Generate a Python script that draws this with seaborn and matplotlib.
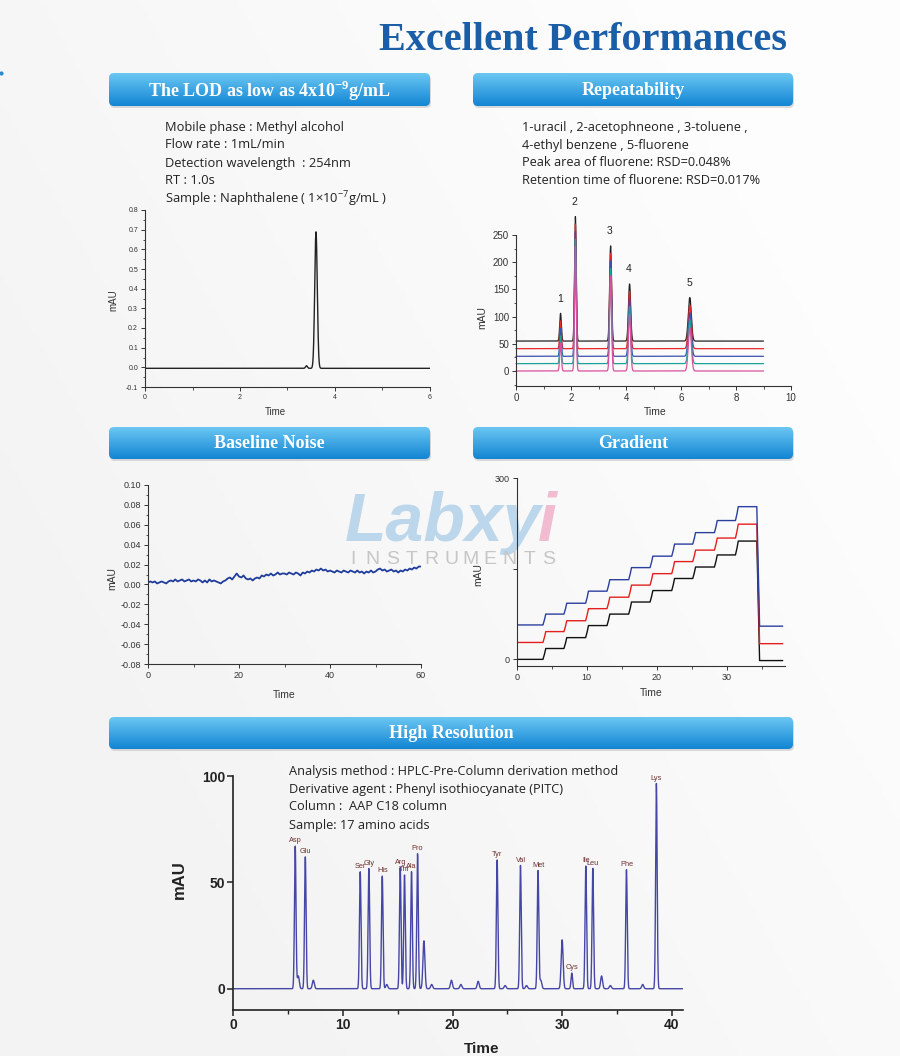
import numpy as np
import pandas as pd
import matplotlib
matplotlib.use("Agg")
import matplotlib.pyplot as plt
import seaborn as sns
from matplotlib.patches import FancyBboxPatch
from matplotlib.ticker import MultipleLocator, FormatStrFormatter

# ---------------- data ----------------
title = "Excellent Performances"
header_texts = ["The LOD as low as 4x10$^{\\mathregular{-9}}$g/mL", "Repeatability", "Baseline Noise",
                "Gradient", "High Resolution"]

lod_info = ["Mobile phase : Methyl alcohol", "Flow rate : 1mL/min",
            "Detection wavelength  : 254nm", "RT : 1.0s",
            "Sample : Naphthalene ( 1×10$^{\\mathregular{-7}}$g/mL )"]
lod_peak_times = [3.40, 3.60]
lod_peak_heights = [0.013, 0.695]
lod_peak_widths = [0.02, 0.027]
lod_baseline = -0.005

rep_info = ["1-uracil , 2-acetophneone , 3-toluene ,", "4-ethyl benzene , 5-fluorene",
            "Peak area of fluorene: RSD=0.048%", "Retention time of fluorene: RSD=0.017%"]
rep_labels = ["1", "2", "3", "4", "5"]
rep_times = [1.62, 2.16, 3.44, 4.13, 6.32]
rep_heights = [51, 229, 175, 105, 80]
rep_widths = [0.030, 0.030, 0.035, 0.040, 0.055]
rep_runs = ["run1", "run2", "run3", "run4", "run5"]
rep_offsets = [55, 41, 27, 13.5, 0]

noise_time = np.arange(0, 60.01, 0.5)
noise_values = [
    0.002, 0.003, 0.002, 0.003, 0.001, 0.002, 0.003, 0.002, 0.001, 0.003,
    0.004, 0.003, 0.005, 0.003, 0.004, 0.005, 0.003, 0.004, 0.005, 0.003,
    0.004, 0.003, 0.005, 0.004, 0.002, 0.004, 0.002, 0.005, 0.003, 0.004,
    0.003, 0.002, 0.001, 0.003, 0.004, 0.006, 0.007, 0.005, 0.008, 0.011,
    0.008, 0.007, 0.009, 0.006, 0.005, 0.006, 0.004, 0.006, 0.007, 0.006,
    0.009, 0.008, 0.010, 0.009, 0.011, 0.009, 0.010, 0.012, 0.010, 0.011,
    0.011, 0.010, 0.012, 0.011, 0.010, 0.012, 0.011, 0.009, 0.012, 0.011,
    0.013, 0.012, 0.014, 0.013, 0.015, 0.014, 0.016, 0.014, 0.015, 0.013,
    0.014, 0.013, 0.012, 0.014, 0.013, 0.012, 0.014, 0.013, 0.012, 0.014,
    0.013, 0.012, 0.014, 0.012, 0.013, 0.011, 0.013, 0.012, 0.014, 0.012,
    0.013, 0.015, 0.016, 0.014, 0.015, 0.013, 0.014, 0.015, 0.013, 0.014,
    0.012, 0.014, 0.013, 0.015, 0.014, 0.016, 0.015, 0.017, 0.016, 0.018,
    0.018]

grad_step_times = [3.8, 6.8, 9.9, 12.95, 16.05, 19.1, 22.2, 25.2, 28.3, 31.3]
grad_drop_time = 34.3
grad_end_time = 38.0
grad_levels = [0, 18, 36, 56, 75, 95, 114, 134, 153, 173, 196]
grad_series = ["black", "red", "blue"]
grad_offsets = [0, 28, 57]

aa_info = ["Analysis method : HPLC-Pre-Column derivation method",
           "Derivative agent : Phenyl isothiocyanate (PITC)",
           "Column :  AAP C18 column", "Sample: 17 amino acids"]
aa_names = ["Asp", "Glu", "Ser", "Gly", "His", "Arg", "Thr", "Ala", "Pro",
            "Tyr", "Val", "Met", "Cys", "Ile", "Leu", "Phe", "Lys"]
aa_times = [5.65, 6.57, 11.58, 12.37, 13.59, 15.23, 15.62, 16.26, 16.81,
            24.07, 26.20, 27.80, 30.88, 32.16, 32.80, 35.87, 38.60]
aa_heights = [67, 62, 55, 56.5, 53, 57, 53.5, 55, 63.5,
              60.5, 58, 55.5, 7.4, 57.7, 56.6, 56, 96.5]
minor_times = [5.93, 7.30, 14.00, 17.39, 18.10, 19.90, 20.76, 22.34, 24.80,
               26.75, 28.05, 30.00, 33.60, 34.40, 37.35]
minor_heights = [6, 4, 2, 22.5, 2, 4, 2, 3.5, 1.5, 1.5, 4, 23, 6, 1.5, 2]

# ---------------- style ----------------
sns.set_style("ticks")
plt.rcParams["font.family"] = ["Liberation Sans", "DejaVu Sans"]
plt.rcParams["axes.unicode_minus"] = False
plt.rcParams["mathtext.fontset"] = "dejavusans"

W, H = 900, 1056
fig = plt.figure(figsize=(9, 10.56), dpi=100)
fig.patch.set_facecolor("#f6f6f6")

bg = fig.add_axes([0, 0, 1, 1], zorder=0)
bg.set_xlim(0, W)
bg.set_ylim(H, 0)
bg.axis("off")
# background gradient
gx = np.linspace(0, 1, 200)
gy = np.linspace(0, 1, 200)
GX, GY = np.meshgrid(gx, gy)
val = 0.955 + 0.04 * np.clip(GX * 0.9 - GY * 0.6 + 0.3, 0, 1)
bgimg = np.dstack([val, val, val])
bg.imshow(bgimg, extent=(0, W, H, 0), aspect="auto", zorder=0)
bg.set_xlim(0, W)
bg.set_ylim(H, 0)

# title
bg.text(583, 41, title, ha="center", va="center", fontsize=29, fontweight="bold",
        family=["Liberation Serif"], color="#1b5ea8", zorder=3)
bg.plot([1], [73], marker="o", ms=2, color="#2a8ad0", zorder=3)

# header bars
bars = [(109, 73, 430, 106), (473, 73, 793, 106), (109, 427, 430, 459),
        (473, 427, 793, 459), (109, 717, 793, 749)]
grad_col = np.linspace(0, 1, 64)[:, None]
top_c = np.array([0.42, 0.78, 0.95])
bot_c = np.array([0.07, 0.52, 0.83])
bar_img = (top_c[None, None, :] * (1 - grad_col[..., None]) + bot_c[None, None, :] * grad_col[..., None])
for (x0, y0, x1, y1), txt in zip(bars, header_texts):
    sh = FancyBboxPatch((x0 + 1, y0 + 2), x1 - x0, y1 - y0,
                        boxstyle="round,pad=0,rounding_size=5",
                        facecolor="#b8b8b8", edgecolor="none", alpha=0.5, zorder=1)
    bg.add_patch(sh)
    p = FancyBboxPatch((x0, y0), x1 - x0, y1 - y0, boxstyle="round,pad=0,rounding_size=5",
                       facecolor="none", edgecolor="none", zorder=2)
    bg.add_patch(p)
    im = bg.imshow(bar_img, extent=(x0, x1, y1, y0), aspect="auto", zorder=2)
    im.set_clip_path(p)
    bg.text((x0 + x1) / 2, (y0 + y1) / 2 + 1, txt, ha="center", va="center",
            fontsize=13, fontweight="bold", family=["Liberation Serif"], color="white", zorder=3)
bg.set_xlim(0, W)
bg.set_ylim(H, 0)

# info texts
info_font = ["Open Sans", "DejaVu Sans"]
for i, line in enumerate(lod_info):
    bg.text(165, 127 + 18 * i, line, ha="left", va="center", fontsize=9.3,
            family=info_font, color="#222222", zorder=3)
for i, line in enumerate(rep_info):
    bg.text(522, 127 + 18 * i, line, ha="left", va="center", fontsize=9.2,
            family=info_font, color="#222222", zorder=3)
for i, line in enumerate(aa_info):
    bg.text(289, 771 + 18 * i, line, ha="left", va="center", fontsize=9.2,
            family=info_font, color="#222222", zorder=3)

# watermark
wm = bg.text(345, 541, "Labxy", ha="left", va="baseline", fontsize=49, fontweight="bold",
             style="italic", family=["Liberation Sans"], color="#bcd6eb", zorder=1.5)
fig.canvas.draw()
ext = wm.get_window_extent(renderer=fig.canvas.get_renderer())
x_end = bg.transData.inverted().transform((ext.x1, ext.y0))[0]
bg.text(x_end - 4, 541, "i", ha="left", va="baseline", fontsize=49, fontweight="bold",
        style="italic", family=["Liberation Sans"], color="#f2bcd0", zorder=1.5)
for k, ch in enumerate("INSTRUMENTS"):
    bg.text(353 + k * 19.6, 560, ch, ha="center", va="center", fontsize=14,
            family=["Liberation Sans"], color="#c6c6c6", zorder=1.5)


def add_ax(x0, y0, x1, y1):
    ax = fig.add_axes([x0 / W, 1 - y1 / H, (x1 - x0) / W, (y1 - y0) / H], zorder=2)
    ax.set_facecolor("none")
    return ax


def peak_sum(t, times, heights, widths):
    y = np.zeros_like(t)
    for c, h, w in zip(times, heights, widths):
        y = y + h * np.exp(-0.5 * ((t - c) / w) ** 2)
    return y


def style_small(ax, size=6.5):
    sns.despine(ax=ax)
    for s in ["left", "bottom"]:
        ax.spines[s].set_linewidth(0.8)
        ax.spines[s].set_color("#333333")
    ax.tick_params(which="major", direction="out", length=3, width=0.7,
                   labelsize=size, colors="#333333", pad=2)
    ax.tick_params(which="minor", direction="out", length=1.8, width=0.6, colors="#333333")


# ---- LOD chart ----
ax1 = add_ax(145, 210, 430, 387)
t1 = np.linspace(0, 6, 1500)
df1 = pd.DataFrame({"Time": t1, "mAU": lod_baseline + peak_sum(t1, lod_peak_times, lod_peak_heights, lod_peak_widths)})
sns.lineplot(data=df1, x="Time", y="mAU", ax=ax1, color="#222222", linewidth=1.0,
             estimator=None, sort=False)
ax1.set_xlim(0, 6)
ax1.set_ylim(-0.1, 0.8)
ax1.xaxis.set_major_locator(MultipleLocator(2))
ax1.xaxis.set_minor_locator(MultipleLocator(1))
ax1.yaxis.set_major_locator(MultipleLocator(0.1))
ax1.yaxis.set_minor_locator(MultipleLocator(0.05))
ax1.yaxis.set_major_formatter(FormatStrFormatter("%.1f"))
style_small(ax1, 5)
ax1.set_xlabel("Time", fontsize=7, color="#333333")
ax1.set_ylabel("mAU", fontsize=7, color="#333333")
ax1.xaxis.set_label_coords(0.456, -0.113)
ax1.yaxis.set_label_coords(-0.095, 0.49)

# ---- Repeatability chart ----
ax2 = add_ax(516, 235, 791, 386)
t2 = np.linspace(0, 9, 2500)
frames = []
for run, off in zip(rep_runs, rep_offsets):
    frames.append(pd.DataFrame({"Time": t2, "mAU": off + peak_sum(t2, rep_times, rep_heights, rep_widths),
                                "run": run}))
df2 = pd.concat(frames, ignore_index=True)
sns.lineplot(data=df2, x="Time", y="mAU", hue="run", ax=ax2,
             palette=["#222222", "#e8262a", "#3a4fb0", "#1aa39a", "#d9509e"],
             linewidth=0.9, estimator=None, sort=False, legend=False)
for line in ax2.get_lines():
    line.set_clip_on(False)
ax2.set_xlim(0, 10)
ax2.set_ylim(-27.6, 250)
ax2.xaxis.set_major_locator(MultipleLocator(2))
ax2.xaxis.set_minor_locator(MultipleLocator(1))
ax2.yaxis.set_major_locator(MultipleLocator(50))
ax2.yaxis.set_minor_locator(MultipleLocator(25))
style_small(ax2, 7)
for lab, c, h in zip(rep_labels, rep_times, rep_heights):
    ax2.text(c - 0.03, h + max(rep_offsets) + 27, lab, ha="center", va="center",
             fontsize=7.5, color="#222222", clip_on=False)
ax2.set_xlabel("Time", fontsize=7.5, color="#333333")
ax2.set_ylabel("mAU", fontsize=7.5, color="#333333")
ax2.xaxis.set_label_coords(0.505, -0.14)
ax2.yaxis.set_label_coords(-0.105, 0.45)

# ---- Baseline noise chart ----
ax3 = add_ax(148, 485, 421, 664)
df3 = pd.DataFrame({"Time": noise_time, "mAU": noise_values})
sns.lineplot(data=df3, x="Time", y="mAU", ax=ax3, color="#1f3c9c", linewidth=1.3,
             estimator=None, sort=False)
ax3.set_xlim(0, 60)
ax3.set_ylim(-0.08, 0.10)
ax3.xaxis.set_major_locator(MultipleLocator(20))
ax3.xaxis.set_minor_locator(MultipleLocator(10))
ax3.yaxis.set_major_locator(MultipleLocator(0.02))
ax3.yaxis.set_minor_locator(MultipleLocator(0.01))
ax3.yaxis.set_major_formatter(FormatStrFormatter("%.2f"))
style_small(ax3, 6.5)
ax3.set_xlabel("Time", fontsize=7.5, color="#333333")
ax3.set_ylabel("mAU", fontsize=7.5, color="#333333")
ax3.xaxis.set_label_coords(0.5, -0.145)
ax3.yaxis.set_label_coords(-0.114, 0.48)

# ---- Gradient chart ----
ax4 = add_ax(516.7, 478.3, 784.8, 666)
frames = []
ramp = 0.35
for name, off in zip(grad_series, grad_offsets):
    xs = [0.0]
    ys = [grad_levels[0] + off]
    for t, lp, ln in zip(grad_step_times, grad_levels[:-1], grad_levels[1:]):
        xs += [t - 0.05, t + ramp * 0.5, t + ramp]
        ys += [lp + off, (lp + ln) / 2 + off, ln + off]
    xs += [grad_drop_time, grad_drop_time + 0.4, grad_end_time]
    ys += [grad_levels[-1] + off, grad_levels[0] + off - 2, grad_levels[0] + off - 2]
    frames.append(pd.DataFrame({"Time": xs, "mAU": ys, "series": name}))
df4 = pd.concat(frames, ignore_index=True)
sns.lineplot(data=df4, x="Time", y="mAU", hue="series", ax=ax4,
             palette=["#111111", "#e3201f", "#2b3f9e"], linewidth=1.0,
             estimator=None, sort=False, legend=False)
ax4.set_xlim(0, 38.3)
ax4.set_ylim(-11, 300)
ax4.set_xticks([0, 10, 20, 30])
ax4.xaxis.set_minor_locator(MultipleLocator(5))
ax4.set_yticks([0, 150, 300])
ax4.set_yticklabels(["0", "", "300"])
style_small(ax4, 6.5)
ax4.set_xlabel("Time", fontsize=7.5, color="#333333")
ax4.set_ylabel("mAU", fontsize=7.5, color="#333333")
ax4.xaxis.set_label_coords(0.5, -0.117)
ax4.yaxis.set_label_coords(-0.126, 0.485)

# ---- Amino acids chart ----
ax5 = add_ax(233.3, 776, 682.7, 1010)
t5 = np.linspace(0, 41, 6000)
y5 = (peak_sum(t5, aa_times, aa_heights, [0.07] * len(aa_times))
      + peak_sum(t5, minor_times, minor_heights, [0.09] * len(minor_times)))
df5 = pd.DataFrame({"Time": t5, "mAU": y5})
sns.lineplot(data=df5, x="Time", y="mAU", ax=ax5, color="#4646a6", linewidth=1.0,
             estimator=None, sort=False)
ax5.set_xlim(0, 41)
ax5.set_ylim(-10, 100)
ax5.set_xticks([0, 10, 20, 30, 40])
ax5.xaxis.set_minor_locator(MultipleLocator(5))
ax5.set_yticks([0, 50, 100])
sns.despine(ax=ax5)
for s in ["left", "bottom"]:
    ax5.spines[s].set_linewidth(1.2)
    ax5.spines[s].set_color("#222222")
ax5.tick_params(which="major", direction="out", length=4, width=1.1, labelsize=10,
                colors="#222222", pad=2)
ax5.tick_params(which="minor", direction="out", length=3, width=1.0, colors="#222222")
for lab in ax5.get_xticklabels() + ax5.get_yticklabels():
    lab.set_fontweight("bold")
for name, c, h in zip(aa_names, aa_times, aa_heights):
    ax5.text(c, h + 0.8, name, ha="center", va="bottom", fontsize=5.3, color="#6e3030")
ax5.set_xlabel("Time", fontsize=11, fontweight="bold", color="#222222")
ax5.set_ylabel("mAU", fontsize=12, fontweight="bold", color="#222222")
ax5.xaxis.set_label_coords(0.553, -0.137)
ax5.yaxis.set_label_coords(-0.103, 0.556)

fig.savefig("out.png", dpi=100)
